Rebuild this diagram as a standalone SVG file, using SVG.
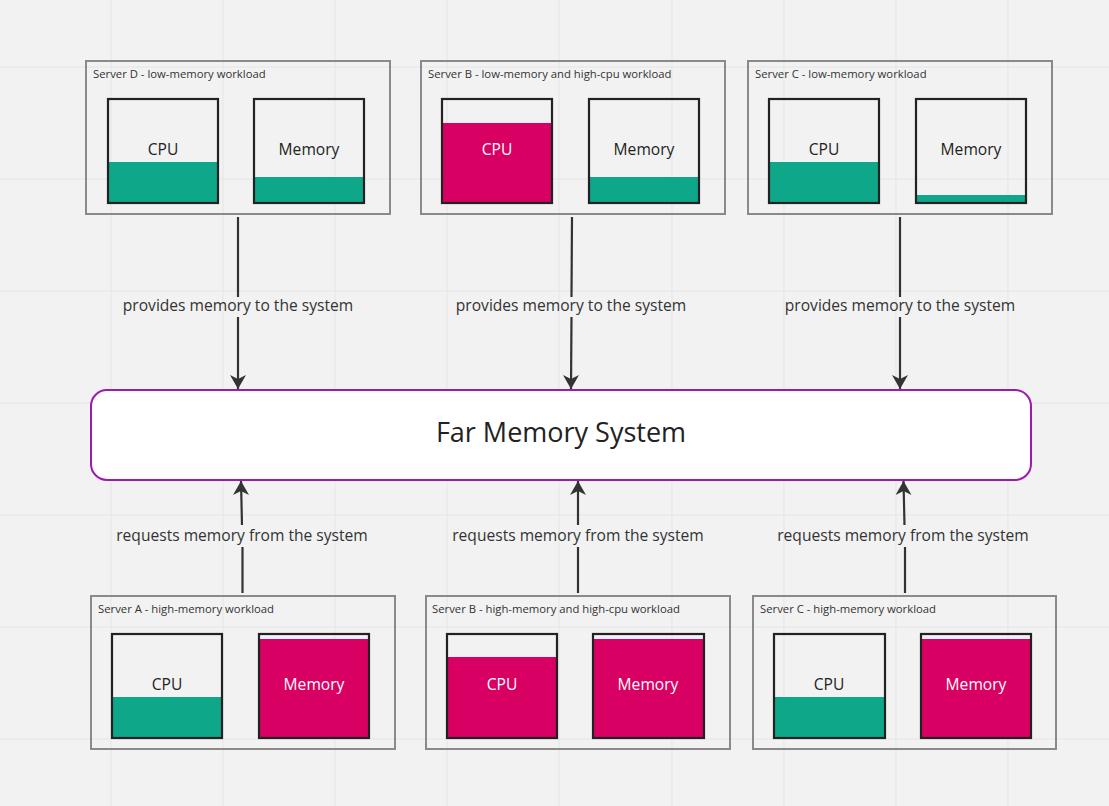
<svg xmlns="http://www.w3.org/2000/svg" width="1109" height="806" viewBox="0 0 1109 806">
<defs>
<style>
.bg{fill:#f2f2f2}
.grid{stroke:#e5e5e5;stroke-width:1}
.frame{fill:none;stroke:#8a8a8a;stroke-width:2}
.box{fill:none;stroke:#222;stroke-width:2.2}
.green{fill:#0ea789}
.pink{fill:#d80062}
.title{font-family:"Open Sans","Liberation Sans",sans-serif;font-size:11.3px;fill:#333}
.lbl{font-family:"Open Sans","Liberation Sans",sans-serif;font-size:15.6px;text-anchor:middle;fill:#222}
.lblw{font-family:"Open Sans","Liberation Sans",sans-serif;font-size:15.6px;text-anchor:middle;fill:#fff}
.edge{stroke:#333;stroke-width:2.2;fill:none}
.elbl{font-family:"Open Sans","Liberation Sans",sans-serif;font-size:15.6px;text-anchor:middle;fill:#333}
</style>
<marker id="ahd" viewBox="0 0 16 14" refX="8" refY="14" markerWidth="16" markerHeight="14" markerUnits="userSpaceOnUse" orient="0">
<path d="M0,0 L8,14 L16,0 L8,4 Z" fill="#333"/>
</marker>
<marker id="ahu" viewBox="0 0 16 14" refX="8" refY="0" markerWidth="16" markerHeight="14" markerUnits="userSpaceOnUse" orient="0">
<path d="M0,14 L8,0 L16,14 L8,10 Z" fill="#333"/>
</marker>
</defs>
<rect class="bg" x="0" y="0" width="1109" height="806"/>
<g id="grid">
<line class="grid" x1="111" y1="0" x2="111" y2="806"/>
<line class="grid" x1="223" y1="0" x2="223" y2="806"/>
<line class="grid" x1="335" y1="0" x2="335" y2="806"/>
<line class="grid" x1="447" y1="0" x2="447" y2="806"/>
<line class="grid" x1="559" y1="0" x2="559" y2="806"/>
<line class="grid" x1="672" y1="0" x2="672" y2="806"/>
<line class="grid" x1="784" y1="0" x2="784" y2="806"/>
<line class="grid" x1="896" y1="0" x2="896" y2="806"/>
<line class="grid" x1="1008" y1="0" x2="1008" y2="806"/>
<line class="grid" x1="0" y1="67" x2="1109" y2="67"/>
<line class="grid" x1="0" y1="179" x2="1109" y2="179"/>
<line class="grid" x1="0" y1="291" x2="1109" y2="291"/>
<line class="grid" x1="0" y1="403" x2="1109" y2="403"/>
<line class="grid" x1="0" y1="515" x2="1109" y2="515"/>
<line class="grid" x1="0" y1="627" x2="1109" y2="627"/>
<line class="grid" x1="0" y1="739" x2="1109" y2="739"/>
</g>

<g id="serverD">
<rect class="frame" x="86" y="61" width="304" height="153"/>
<text class="title" x="93" y="78">Server D - low-memory workload</text>
<rect class="green" x="108" y="162" width="109" height="41"/>
<rect class="box" x="108" y="99" width="110" height="104"/>
<text class="lbl" x="163" y="155">CPU</text>
<rect class="green" x="255" y="177" width="108" height="26"/>
<rect class="box" x="254" y="99" width="110" height="104"/>
<text class="lbl" x="309" y="155">Memory</text>
</g>

<g id="serverB-top">
<rect class="frame" x="421" y="61" width="304" height="153"/>
<text class="title" x="428" y="78">Server B - low-memory and high-cpu workload</text>
<rect class="pink" x="443" y="123" width="108" height="80"/>
<rect class="box" x="442" y="99" width="110" height="104"/>
<text class="lblw" x="497" y="155">CPU</text>
<rect class="green" x="590" y="177" width="108" height="26"/>
<rect class="box" x="589" y="99" width="110" height="104"/>
<text class="lbl" x="644" y="155">Memory</text>
</g>

<g id="serverC-top">
<rect class="frame" x="748" y="61" width="304" height="153"/>
<text class="title" x="755" y="78">Server C - low-memory workload</text>
<rect class="green" x="770" y="162" width="109" height="41"/>
<rect class="box" x="769" y="99" width="110" height="104"/>
<text class="lbl" x="824" y="155">CPU</text>
<rect class="green" x="917" y="195" width="109" height="8"/>
<rect class="box" x="916" y="99" width="110" height="104"/>
<text class="lbl" x="971" y="155">Memory</text>
</g>

<g id="farMemory">
<rect x="91" y="390" width="940" height="90" rx="16" ry="16" fill="#fff" stroke="#9c1aae" stroke-width="2"/>
<text x="561" y="442" font-family="'Open Sans','Liberation Sans',sans-serif" font-size="27" text-anchor="middle" fill="#222">Far Memory System</text>
</g>

<g id="serverA">
<rect class="frame" x="91" y="596" width="304" height="153"/>
<text class="title" x="98" y="613">Server A - high-memory workload</text>
<rect class="green" x="113" y="697" width="109" height="41"/>
<rect class="box" x="112" y="634" width="110" height="104"/>
<text class="lbl" x="167" y="690">CPU</text>
<rect class="pink" x="260" y="639" width="108" height="99"/>
<rect class="box" x="259" y="634" width="110" height="104"/>
<text class="lblw" x="314" y="690">Memory</text>
</g>

<g id="serverB-bottom">
<rect class="frame" x="426" y="596" width="304" height="153"/>
<text class="title" x="432" y="613">Server B - high-memory and high-cpu workload</text>
<rect class="pink" x="448" y="657" width="108" height="81"/>
<rect class="box" x="447" y="634" width="110" height="104"/>
<text class="lblw" x="502" y="690">CPU</text>
<rect class="pink" x="594" y="639" width="109" height="99"/>
<rect class="box" x="593" y="634" width="111" height="104"/>
<text class="lblw" x="648" y="690">Memory</text>
</g>

<g id="serverC-bottom">
<rect class="frame" x="753" y="596" width="303" height="153"/>
<text class="title" x="760" y="613">Server C - high-memory workload</text>
<rect class="green" x="775" y="697" width="109" height="41"/>
<rect class="box" x="774" y="634" width="111" height="104"/>
<text class="lbl" x="829" y="690">CPU</text>
<rect class="pink" x="922" y="639" width="108" height="99"/>
<rect class="box" x="921" y="634" width="110" height="104"/>
<text class="lblw" x="976" y="690">Memory</text>
</g>

<g id="connectors">
<line class="edge" x1="238" y1="217" x2="238" y2="297"/>
<line class="edge" x1="238" y1="317" x2="238" y2="389" marker-end="url(#ahd)"/>
<text class="elbl" x="238" y="311">provides memory to the system</text>

<line class="edge" x1="572" y1="217" x2="571.5" y2="297"/>
<line class="edge" x1="571.5" y1="317" x2="571" y2="389" marker-end="url(#ahd)"/>
<text class="elbl" x="571" y="311">provides memory to the system</text>

<line class="edge" x1="900" y1="217" x2="900" y2="297"/>
<line class="edge" x1="900" y1="317" x2="900" y2="389" marker-end="url(#ahd)"/>
<text class="elbl" x="900" y="311">provides memory to the system</text>

<line class="edge" x1="242.5" y1="593" x2="242.5" y2="547"/>
<line class="edge" x1="242" y1="525" x2="241" y2="481" marker-end="url(#ahu)"/>
<text class="elbl" x="242" y="541">requests memory from the system</text>

<line class="edge" x1="578" y1="593" x2="578" y2="547"/>
<line class="edge" x1="578" y1="525" x2="578" y2="481" marker-end="url(#ahu)"/>
<text class="elbl" x="578" y="541">requests memory from the system</text>

<line class="edge" x1="905" y1="593" x2="905" y2="547"/>
<line class="edge" x1="904.5" y1="525" x2="903.5" y2="481" marker-end="url(#ahu)"/>
<text class="elbl" x="903" y="541">requests memory from the system</text>
</g>
</svg>
